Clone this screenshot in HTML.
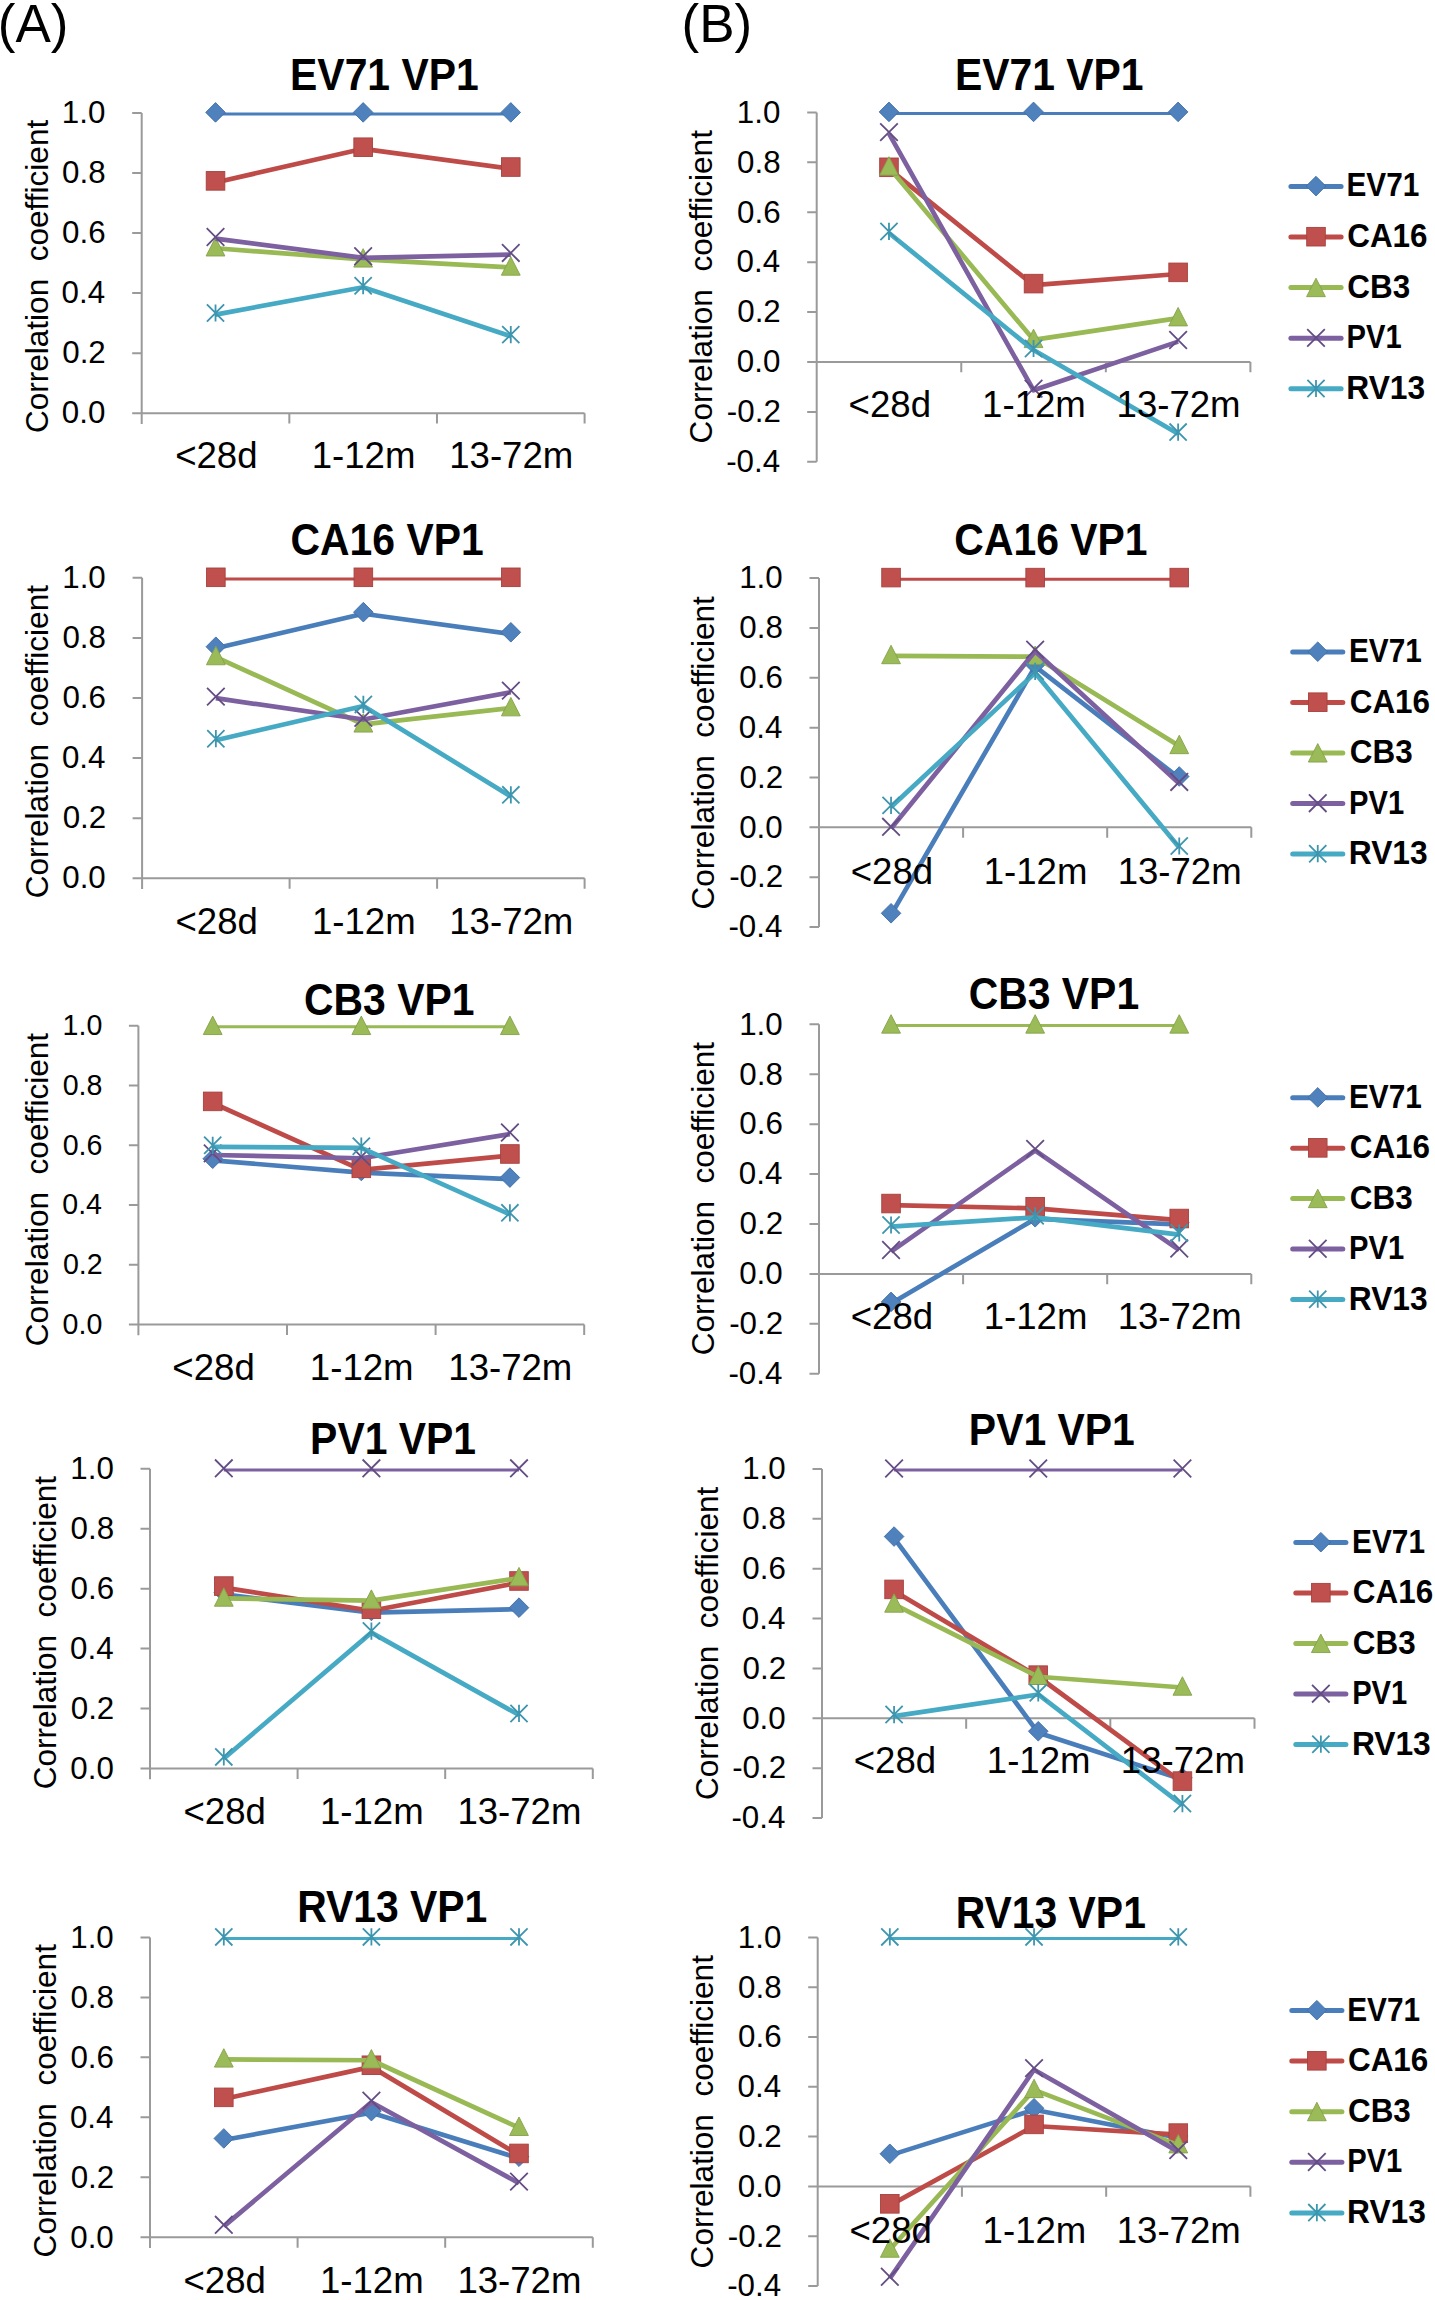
<!DOCTYPE html>
<html><head><meta charset="utf-8"><title>Correlation coefficient charts</title>
<style>
html,body{margin:0;padding:0;background:#fff;}
body{width:1435px;height:2300px;overflow:hidden;}
svg{display:block;}
text{font-family:"Liberation Sans",sans-serif;fill:#000;}
</style></head><body>
<svg width="1435" height="2300" viewBox="0 0 1435 2300">
<rect width="1435" height="2300" fill="#fff"/>
<text transform="translate(-2.21,41.8) scale(1,1)" font-size="53" font-weight="normal">(A)</text>
<text transform="translate(681.49,41.8) scale(1,1)" font-size="53" font-weight="normal">(B)</text>
<path d="M141.7 112.9L141.7 424M132.2 112.9L141.7 112.9M132.2 172.96L141.7 172.96M132.2 233.02L141.7 233.02M132.2 293.08L141.7 293.08M132.2 353.14L141.7 353.14M132.2 413.2L141.7 413.2M141.7 413.2L584.6 413.2M289.33 413.2L289.33 423.6M436.97 413.2L436.97 423.6M584.6 413.2L584.6 423.6" stroke="#9a9a9a" stroke-width="2" fill="none"/>
<path d="M215.52 114L363.15 114L510.78 114" stroke="#4A7EBB" stroke-width="3.0" fill="none" stroke-linejoin="round"/>
<path d="M215.52 102.6L225.32 112.4L215.52 122.2L205.72 112.4Z" fill="#4F81BD" stroke="#3F6DA6" stroke-width="0.9" stroke-linejoin="miter"/>
<path d="M363.15 102.6L372.95 112.4L363.15 122.2L353.35 112.4Z" fill="#4F81BD" stroke="#3F6DA6" stroke-width="0.9" stroke-linejoin="miter"/>
<path d="M510.78 102.6L520.58 112.4L510.78 122.2L500.98 112.4Z" fill="#4F81BD" stroke="#3F6DA6" stroke-width="0.9" stroke-linejoin="miter"/>
<path d="M215.52 182.47L363.15 148.83L510.78 168.65" stroke="#BE4B48" stroke-width="4.7" fill="none" stroke-linejoin="round"/>
<rect x="206.22" y="171.57" width="18.6" height="18.6" fill="#C0504D" stroke="#A5423F" stroke-width="0.9"/>
<rect x="353.85" y="137.93" width="18.6" height="18.6" fill="#C0504D" stroke="#A5423F" stroke-width="0.9"/>
<rect x="501.48" y="157.75" width="18.6" height="18.6" fill="#C0504D" stroke="#A5423F" stroke-width="0.9"/>
<path d="M215.52 248.23L363.15 259.35L510.78 267.45" stroke="#98B954" stroke-width="4.7" fill="none" stroke-linejoin="round"/>
<path d="M215.52 237.53L224.92 255.98L206.12 255.98Z" fill="#9BBB59" stroke="#84A24A" stroke-width="0.9" stroke-linejoin="miter"/>
<path d="M363.15 248.65L372.55 267.1L353.75 267.1Z" fill="#9BBB59" stroke="#84A24A" stroke-width="0.9" stroke-linejoin="miter"/>
<path d="M510.78 256.75L520.18 275.2L501.38 275.2Z" fill="#9BBB59" stroke="#84A24A" stroke-width="0.9" stroke-linejoin="miter"/>
<path d="M215.52 238.62L363.15 257.84L510.78 254.54" stroke="#7D60A0" stroke-width="4.7" fill="none" stroke-linejoin="round"/>
<path d="M206.72 228.22L224.32 245.82M206.72 245.82L224.32 228.22" stroke="#644D84" stroke-width="1.8" fill="none"/>
<path d="M354.35 247.44L371.95 265.04M354.35 265.04L371.95 247.44" stroke="#644D84" stroke-width="1.8" fill="none"/>
<path d="M501.98 244.14L519.58 261.74M501.98 261.74L519.58 244.14" stroke="#644D84" stroke-width="1.8" fill="none"/>
<path d="M215.52 314.6L363.15 287.27L510.78 336.22" stroke="#46AAC5" stroke-width="4.7" fill="none" stroke-linejoin="round"/>
<path d="M206.92 304.4L224.12 321.6M206.92 321.6L224.12 304.4M215.52 304.4L215.52 321.6" stroke="#3D95AE" stroke-width="1.8" fill="none"/>
<path d="M354.55 277.07L371.75 294.27M354.55 294.27L371.75 277.07M363.15 277.07L363.15 294.27" stroke="#3D95AE" stroke-width="1.8" fill="none"/>
<path d="M502.18 326.02L519.38 343.22M502.18 343.22L519.38 326.02M510.78 326.02L510.78 343.22" stroke="#3D95AE" stroke-width="1.8" fill="none"/>
<text transform="translate(105.38,122.6) scale(1,1)" text-anchor="end" font-size="31.3" font-weight="normal">1.0</text>
<text transform="translate(105.54,182.66) scale(1,1)" text-anchor="end" font-size="31.3" font-weight="normal">0.8</text>
<text transform="translate(105.54,242.72) scale(1,1)" text-anchor="end" font-size="31.3" font-weight="normal">0.6</text>
<text transform="translate(105.07,302.78) scale(1,1)" text-anchor="end" font-size="31.3" font-weight="normal">0.4</text>
<text transform="translate(105.77,362.84) scale(1,1)" text-anchor="end" font-size="31.3" font-weight="normal">0.2</text>
<text transform="translate(105.38,422.9) scale(1,1)" text-anchor="end" font-size="31.3" font-weight="normal">0.0</text>
<text transform="translate(216.35,468.2) scale(1,1)" text-anchor="middle" font-size="36.6" font-weight="normal">&lt;28d</text>
<text transform="translate(363.56,468.2) scale(1,1)" text-anchor="middle" font-size="36.6" font-weight="normal">1-12m</text>
<text transform="translate(511.21,468.2) scale(1,1)" text-anchor="middle" font-size="36.6" font-weight="normal">13-72m</text>
<text transform="translate(384.42,89.9) scale(0.94,1)" text-anchor="middle" font-size="43.5" font-weight="bold">EV71 VP1</text>
<text transform="translate(47.6,276.45) rotate(-90) scale(1,1)" text-anchor="middle" font-size="31.55" font-weight="normal">Correlation&#160; coefficient</text>
<path d="M142.1 577.8L142.1 889.1M132.6 577.8L142.1 577.8M132.6 637.9L142.1 637.9M132.6 698L142.1 698M132.6 758.1L142.1 758.1M132.6 818.2L142.1 818.2M132.6 878.3L142.1 878.3M142.1 878.3L584.6 878.3M289.6 878.3L289.6 888.7M437.1 878.3L437.1 888.7M584.6 878.3L584.6 888.7" stroke="#9a9a9a" stroke-width="2" fill="none"/>
<path d="M215.85 648.32L363.35 613.76L510.85 633.89" stroke="#4A7EBB" stroke-width="4.7" fill="none" stroke-linejoin="round"/>
<path d="M215.85 636.92L225.65 646.72L215.85 656.52L206.05 646.72Z" fill="#4F81BD" stroke="#3F6DA6" stroke-width="0.9" stroke-linejoin="miter"/>
<path d="M363.35 602.36L373.15 612.16L363.35 621.96L353.55 612.16Z" fill="#4F81BD" stroke="#3F6DA6" stroke-width="0.9" stroke-linejoin="miter"/>
<path d="M510.85 622.49L520.65 632.29L510.85 642.09L501.05 632.29Z" fill="#4F81BD" stroke="#3F6DA6" stroke-width="0.9" stroke-linejoin="miter"/>
<path d="M215.85 578.9L363.35 578.9L510.85 578.9" stroke="#BE4B48" stroke-width="3.0" fill="none" stroke-linejoin="round"/>
<rect x="206.55" y="568" width="18.6" height="18.6" fill="#C0504D" stroke="#A5423F" stroke-width="0.9"/>
<rect x="354.05" y="568" width="18.6" height="18.6" fill="#C0504D" stroke="#A5423F" stroke-width="0.9"/>
<rect x="501.55" y="568" width="18.6" height="18.6" fill="#C0504D" stroke="#A5423F" stroke-width="0.9"/>
<path d="M215.85 657.03L363.35 724.34L510.85 708.12" stroke="#98B954" stroke-width="4.7" fill="none" stroke-linejoin="round"/>
<path d="M215.85 646.33L225.25 664.78L206.45 664.78Z" fill="#9BBB59" stroke="#84A24A" stroke-width="0.9" stroke-linejoin="miter"/>
<path d="M363.35 713.64L372.75 732.09L353.95 732.09Z" fill="#9BBB59" stroke="#84A24A" stroke-width="0.9" stroke-linejoin="miter"/>
<path d="M510.85 697.42L520.25 715.86L501.45 715.86Z" fill="#9BBB59" stroke="#84A24A" stroke-width="0.9" stroke-linejoin="miter"/>
<path d="M215.85 698.2L363.35 719.53L510.85 692.19" stroke="#7D60A0" stroke-width="4.7" fill="none" stroke-linejoin="round"/>
<path d="M207.05 687.8L224.65 705.4M207.05 705.4L224.65 687.8" stroke="#644D84" stroke-width="1.8" fill="none"/>
<path d="M354.55 709.13L372.15 726.73M354.55 726.73L372.15 709.13" stroke="#644D84" stroke-width="1.8" fill="none"/>
<path d="M502.05 681.79L519.65 699.39M502.05 699.39L519.65 681.79" stroke="#644D84" stroke-width="1.8" fill="none"/>
<path d="M215.85 740.27L363.35 706.01L510.85 796.46" stroke="#46AAC5" stroke-width="4.7" fill="none" stroke-linejoin="round"/>
<path d="M207.25 730.07L224.45 747.27M207.25 747.27L224.45 730.07M215.85 730.07L215.85 747.27" stroke="#3D95AE" stroke-width="1.8" fill="none"/>
<path d="M354.75 695.81L371.95 713.01M354.75 713.01L371.95 695.81M363.35 695.81L363.35 713.01" stroke="#3D95AE" stroke-width="1.8" fill="none"/>
<path d="M502.25 786.26L519.45 803.46M502.25 803.46L519.45 786.26M510.85 786.26L510.85 803.46" stroke="#3D95AE" stroke-width="1.8" fill="none"/>
<text transform="translate(105.78,587.5) scale(1,1)" text-anchor="end" font-size="31.3" font-weight="normal">1.0</text>
<text transform="translate(105.94,647.6) scale(1,1)" text-anchor="end" font-size="31.3" font-weight="normal">0.8</text>
<text transform="translate(105.94,707.7) scale(1,1)" text-anchor="end" font-size="31.3" font-weight="normal">0.6</text>
<text transform="translate(105.47,767.8) scale(1,1)" text-anchor="end" font-size="31.3" font-weight="normal">0.4</text>
<text transform="translate(106.17,827.9) scale(1,1)" text-anchor="end" font-size="31.3" font-weight="normal">0.2</text>
<text transform="translate(105.78,888) scale(1,1)" text-anchor="end" font-size="31.3" font-weight="normal">0.0</text>
<text transform="translate(216.68,934.3) scale(1,1)" text-anchor="middle" font-size="36.6" font-weight="normal">&lt;28d</text>
<text transform="translate(363.76,934.3) scale(1,1)" text-anchor="middle" font-size="36.6" font-weight="normal">1-12m</text>
<text transform="translate(511.28,934.3) scale(1,1)" text-anchor="middle" font-size="36.6" font-weight="normal">13-72m</text>
<text transform="translate(387.14,555.2) scale(0.94,1)" text-anchor="middle" font-size="43.5" font-weight="bold">CA16 VP1</text>
<text transform="translate(47.6,741.7) rotate(-90) scale(1,1)" text-anchor="middle" font-size="31.55" font-weight="normal">Correlation&#160; coefficient</text>
<path d="M138.4 1025.7L138.4 1335.3M128.9 1025.7L138.4 1025.7M128.9 1085.46L138.4 1085.46M128.9 1145.22L138.4 1145.22M128.9 1204.98L138.4 1204.98M128.9 1264.74L138.4 1264.74M128.9 1324.5L138.4 1324.5M138.4 1324.5L584.2 1324.5M287 1324.5L287 1334.9M435.6 1324.5L435.6 1334.9M584.2 1324.5L584.2 1334.9" stroke="#9a9a9a" stroke-width="2" fill="none"/>
<path d="M212.7 1160.36L361.3 1172.61L509.9 1179.19" stroke="#4A7EBB" stroke-width="4.7" fill="none" stroke-linejoin="round"/>
<path d="M212.7 1148.96L222.5 1158.76L212.7 1168.56L202.9 1158.76Z" fill="#4F81BD" stroke="#3F6DA6" stroke-width="0.9" stroke-linejoin="miter"/>
<path d="M361.3 1161.21L371.1 1171.01L361.3 1180.81L351.5 1171.01Z" fill="#4F81BD" stroke="#3F6DA6" stroke-width="0.9" stroke-linejoin="miter"/>
<path d="M509.9 1167.79L519.7 1177.59L509.9 1187.39L500.1 1177.59Z" fill="#4F81BD" stroke="#3F6DA6" stroke-width="0.9" stroke-linejoin="miter"/>
<path d="M212.7 1102.99L361.3 1169.93L509.9 1155.58" stroke="#BE4B48" stroke-width="4.7" fill="none" stroke-linejoin="round"/>
<rect x="203.4" y="1092.09" width="18.6" height="18.6" fill="#C0504D" stroke="#A5423F" stroke-width="0.9"/>
<rect x="352" y="1159.03" width="18.6" height="18.6" fill="#C0504D" stroke="#A5423F" stroke-width="0.9"/>
<rect x="500.6" y="1144.68" width="18.6" height="18.6" fill="#C0504D" stroke="#A5423F" stroke-width="0.9"/>
<path d="M212.7 1026.8L361.3 1026.8L509.9 1026.8" stroke="#98B954" stroke-width="3.0" fill="none" stroke-linejoin="round"/>
<path d="M212.7 1016.1L222.1 1034.55L203.3 1034.55Z" fill="#9BBB59" stroke="#84A24A" stroke-width="0.9" stroke-linejoin="miter"/>
<path d="M361.3 1016.1L370.7 1034.55L351.9 1034.55Z" fill="#9BBB59" stroke="#84A24A" stroke-width="0.9" stroke-linejoin="miter"/>
<path d="M509.9 1016.1L519.3 1034.55L500.5 1034.55Z" fill="#9BBB59" stroke="#84A24A" stroke-width="0.9" stroke-linejoin="miter"/>
<path d="M212.7 1154.99L361.3 1158.27L509.9 1134.07" stroke="#7D60A0" stroke-width="4.7" fill="none" stroke-linejoin="round"/>
<path d="M203.9 1144.59L221.5 1162.19M203.9 1162.19L221.5 1144.59" stroke="#644D84" stroke-width="1.8" fill="none"/>
<path d="M352.5 1147.87L370.1 1165.47M352.5 1165.47L370.1 1147.87" stroke="#644D84" stroke-width="1.8" fill="none"/>
<path d="M501.1 1123.67L518.7 1141.27M501.1 1141.27L518.7 1123.67" stroke="#644D84" stroke-width="1.8" fill="none"/>
<path d="M212.7 1146.92L361.3 1147.81L509.9 1214.45" stroke="#46AAC5" stroke-width="4.7" fill="none" stroke-linejoin="round"/>
<path d="M204.1 1136.72L221.3 1153.92M204.1 1153.92L221.3 1136.72M212.7 1136.72L212.7 1153.92" stroke="#3D95AE" stroke-width="1.8" fill="none"/>
<path d="M352.7 1137.61L369.9 1154.81M352.7 1154.81L369.9 1137.61M361.3 1137.61L361.3 1154.81" stroke="#3D95AE" stroke-width="1.8" fill="none"/>
<path d="M501.3 1204.25L518.5 1221.45M501.3 1221.45L518.5 1204.25M509.9 1204.25L509.9 1221.45" stroke="#3D95AE" stroke-width="1.8" fill="none"/>
<text transform="translate(102.28,1035) scale(1,1)" text-anchor="end" font-size="28.6" font-weight="normal">1.0</text>
<text transform="translate(102.42,1094.76) scale(1,1)" text-anchor="end" font-size="28.6" font-weight="normal">0.8</text>
<text transform="translate(102.42,1154.52) scale(1,1)" text-anchor="end" font-size="28.6" font-weight="normal">0.6</text>
<text transform="translate(101.99,1214.28) scale(1,1)" text-anchor="end" font-size="28.6" font-weight="normal">0.4</text>
<text transform="translate(102.64,1274.04) scale(1,1)" text-anchor="end" font-size="28.6" font-weight="normal">0.2</text>
<text transform="translate(102.28,1333.8) scale(1,1)" text-anchor="end" font-size="28.6" font-weight="normal">0.0</text>
<text transform="translate(213.53,1379.5) scale(1,1)" text-anchor="middle" font-size="36.6" font-weight="normal">&lt;28d</text>
<text transform="translate(361.71,1379.5) scale(1,1)" text-anchor="middle" font-size="36.6" font-weight="normal">1-12m</text>
<text transform="translate(510.33,1379.5) scale(1,1)" text-anchor="middle" font-size="36.6" font-weight="normal">13-72m</text>
<text transform="translate(389.22,1014.6) scale(0.94,1)" text-anchor="middle" font-size="43.5" font-weight="bold">CB3 VP1</text>
<text transform="translate(47.6,1189.6) rotate(-90) scale(1,1)" text-anchor="middle" font-size="31.55" font-weight="normal">Correlation&#160; coefficient</text>
<path d="M150 1468.8L150 1779.3M140.5 1468.8L150 1468.8M140.5 1528.74L150 1528.74M140.5 1588.68L150 1588.68M140.5 1648.62L150 1648.62M140.5 1708.56L150 1708.56M140.5 1768.5L150 1768.5M150 1768.5L592.8 1768.5M297.6 1768.5L297.6 1778.9M445.2 1768.5L445.2 1778.9M592.8 1768.5L592.8 1778.9" stroke="#9a9a9a" stroke-width="2" fill="none"/>
<path d="M223.8 1594.28L371.4 1612.56L519 1609.26" stroke="#4A7EBB" stroke-width="4.7" fill="none" stroke-linejoin="round"/>
<path d="M223.8 1582.88L233.6 1592.68L223.8 1602.48L214 1592.68Z" fill="#4F81BD" stroke="#3F6DA6" stroke-width="0.9" stroke-linejoin="miter"/>
<path d="M371.4 1601.16L381.2 1610.96L371.4 1620.76L361.6 1610.96Z" fill="#4F81BD" stroke="#3F6DA6" stroke-width="0.9" stroke-linejoin="miter"/>
<path d="M519 1597.86L528.8 1607.66L519 1617.46L509.2 1607.66Z" fill="#4F81BD" stroke="#3F6DA6" stroke-width="0.9" stroke-linejoin="miter"/>
<path d="M223.8 1587.68L371.4 1610.76L519 1582.59" stroke="#BE4B48" stroke-width="4.7" fill="none" stroke-linejoin="round"/>
<rect x="214.5" y="1576.78" width="18.6" height="18.6" fill="#C0504D" stroke="#A5423F" stroke-width="0.9"/>
<rect x="362.1" y="1599.86" width="18.6" height="18.6" fill="#C0504D" stroke="#A5423F" stroke-width="0.9"/>
<rect x="509.7" y="1571.69" width="18.6" height="18.6" fill="#C0504D" stroke="#A5423F" stroke-width="0.9"/>
<path d="M223.8 1598.47L371.4 1600.57L519 1578.09" stroke="#98B954" stroke-width="4.7" fill="none" stroke-linejoin="round"/>
<path d="M223.8 1587.77L233.2 1606.22L214.4 1606.22Z" fill="#9BBB59" stroke="#84A24A" stroke-width="0.9" stroke-linejoin="miter"/>
<path d="M371.4 1589.87L380.8 1608.32L362 1608.32Z" fill="#9BBB59" stroke="#84A24A" stroke-width="0.9" stroke-linejoin="miter"/>
<path d="M519 1567.39L528.4 1585.84L509.6 1585.84Z" fill="#9BBB59" stroke="#84A24A" stroke-width="0.9" stroke-linejoin="miter"/>
<path d="M223.8 1469.9L371.4 1469.9L519 1469.9" stroke="#7D60A0" stroke-width="3.0" fill="none" stroke-linejoin="round"/>
<path d="M215 1459.5L232.6 1477.1M215 1477.1L232.6 1459.5" stroke="#644D84" stroke-width="1.8" fill="none"/>
<path d="M362.6 1459.5L380.2 1477.1M362.6 1477.1L380.2 1459.5" stroke="#644D84" stroke-width="1.8" fill="none"/>
<path d="M510.2 1459.5L527.8 1477.1M510.2 1477.1L527.8 1459.5" stroke="#644D84" stroke-width="1.8" fill="none"/>
<path d="M223.8 1758.51L371.4 1632.64L519 1715.05" stroke="#46AAC5" stroke-width="4.7" fill="none" stroke-linejoin="round"/>
<path d="M215.2 1748.31L232.4 1765.51M215.2 1765.51L232.4 1748.31M223.8 1748.31L223.8 1765.51" stroke="#3D95AE" stroke-width="1.8" fill="none"/>
<path d="M362.8 1622.44L380 1639.64M362.8 1639.64L380 1622.44M371.4 1622.44L371.4 1639.64" stroke="#3D95AE" stroke-width="1.8" fill="none"/>
<path d="M510.4 1704.85L527.6 1722.05M510.4 1722.05L527.6 1704.85M519 1704.85L519 1722.05" stroke="#3D95AE" stroke-width="1.8" fill="none"/>
<text transform="translate(113.88,1478.8) scale(1,1)" text-anchor="end" font-size="31.3" font-weight="normal">1.0</text>
<text transform="translate(114.04,1538.74) scale(1,1)" text-anchor="end" font-size="31.3" font-weight="normal">0.8</text>
<text transform="translate(114.04,1598.68) scale(1,1)" text-anchor="end" font-size="31.3" font-weight="normal">0.6</text>
<text transform="translate(113.57,1658.62) scale(1,1)" text-anchor="end" font-size="31.3" font-weight="normal">0.4</text>
<text transform="translate(114.27,1718.56) scale(1,1)" text-anchor="end" font-size="31.3" font-weight="normal">0.2</text>
<text transform="translate(113.88,1778.5) scale(1,1)" text-anchor="end" font-size="31.3" font-weight="normal">0.0</text>
<text transform="translate(224.63,1823.5) scale(1,1)" text-anchor="middle" font-size="36.6" font-weight="normal">&lt;28d</text>
<text transform="translate(371.81,1823.5) scale(1,1)" text-anchor="middle" font-size="36.6" font-weight="normal">1-12m</text>
<text transform="translate(519.43,1823.5) scale(1,1)" text-anchor="middle" font-size="36.6" font-weight="normal">13-72m</text>
<text transform="translate(393.05,1453.9) scale(0.94,1)" text-anchor="middle" font-size="43.5" font-weight="bold">PV1 VP1</text>
<text transform="translate(55.6,1632.6) rotate(-90) scale(1,1)" text-anchor="middle" font-size="31.55" font-weight="normal">Correlation&#160; coefficient</text>
<path d="M150 1937.4L150 2248.1M140.5 1937.4L150 1937.4M140.5 1997.38L150 1997.38M140.5 2057.36L150 2057.36M140.5 2117.34L150 2117.34M140.5 2177.32L150 2177.32M140.5 2237.3L150 2237.3M150 2237.3L592.8 2237.3M297.6 2237.3L297.6 2247.7M445.2 2237.3L445.2 2247.7M592.8 2237.3L592.8 2247.7" stroke="#9a9a9a" stroke-width="2" fill="none"/>
<path d="M223.8 2140.03L371.4 2112.74L519 2158.33" stroke="#4A7EBB" stroke-width="4.7" fill="none" stroke-linejoin="round"/>
<path d="M223.8 2128.63L233.6 2138.43L223.8 2148.23L214 2138.43Z" fill="#4F81BD" stroke="#3F6DA6" stroke-width="0.9" stroke-linejoin="miter"/>
<path d="M371.4 2101.34L381.2 2111.14L371.4 2120.94L361.6 2111.14Z" fill="#4F81BD" stroke="#3F6DA6" stroke-width="0.9" stroke-linejoin="miter"/>
<path d="M519 2146.93L528.8 2156.73L519 2166.53L509.2 2156.73Z" fill="#4F81BD" stroke="#3F6DA6" stroke-width="0.9" stroke-linejoin="miter"/>
<path d="M223.8 2098.95L371.4 2066.86L519 2155.03" stroke="#BE4B48" stroke-width="4.7" fill="none" stroke-linejoin="round"/>
<rect x="214.5" y="2088.05" width="18.6" height="18.6" fill="#C0504D" stroke="#A5423F" stroke-width="0.9"/>
<rect x="362.1" y="2055.96" width="18.6" height="18.6" fill="#C0504D" stroke="#A5423F" stroke-width="0.9"/>
<rect x="509.7" y="2144.13" width="18.6" height="18.6" fill="#C0504D" stroke="#A5423F" stroke-width="0.9"/>
<path d="M223.8 2059.36L371.4 2060.26L519 2127.74" stroke="#98B954" stroke-width="4.7" fill="none" stroke-linejoin="round"/>
<path d="M223.8 2048.66L233.2 2067.11L214.4 2067.11Z" fill="#9BBB59" stroke="#84A24A" stroke-width="0.9" stroke-linejoin="miter"/>
<path d="M371.4 2049.56L380.8 2068.01L362 2068.01Z" fill="#9BBB59" stroke="#84A24A" stroke-width="0.9" stroke-linejoin="miter"/>
<path d="M519 2117.04L528.4 2135.49L509.6 2135.49Z" fill="#9BBB59" stroke="#84A24A" stroke-width="0.9" stroke-linejoin="miter"/>
<path d="M223.8 2226.4L371.4 2102.25L519 2183.22" stroke="#7D60A0" stroke-width="4.7" fill="none" stroke-linejoin="round"/>
<path d="M215 2216L232.6 2233.6M215 2233.6L232.6 2216" stroke="#644D84" stroke-width="1.8" fill="none"/>
<path d="M362.6 2091.85L380.2 2109.45M362.6 2109.45L380.2 2091.85" stroke="#644D84" stroke-width="1.8" fill="none"/>
<path d="M510.2 2172.82L527.8 2190.42M510.2 2190.42L527.8 2172.82" stroke="#644D84" stroke-width="1.8" fill="none"/>
<path d="M223.8 1938.5L371.4 1938.5L519 1938.5" stroke="#46AAC5" stroke-width="3.0" fill="none" stroke-linejoin="round"/>
<path d="M215.2 1928.3L232.4 1945.5M215.2 1945.5L232.4 1928.3M223.8 1928.3L223.8 1945.5" stroke="#3D95AE" stroke-width="1.8" fill="none"/>
<path d="M362.8 1928.3L380 1945.5M362.8 1945.5L380 1928.3M371.4 1928.3L371.4 1945.5" stroke="#3D95AE" stroke-width="1.8" fill="none"/>
<path d="M510.4 1928.3L527.6 1945.5M510.4 1945.5L527.6 1928.3M519 1928.3L519 1945.5" stroke="#3D95AE" stroke-width="1.8" fill="none"/>
<text transform="translate(113.78,1947.6) scale(1,1)" text-anchor="end" font-size="31.3" font-weight="normal">1.0</text>
<text transform="translate(113.94,2007.58) scale(1,1)" text-anchor="end" font-size="31.3" font-weight="normal">0.8</text>
<text transform="translate(113.94,2067.56) scale(1,1)" text-anchor="end" font-size="31.3" font-weight="normal">0.6</text>
<text transform="translate(113.47,2127.54) scale(1,1)" text-anchor="end" font-size="31.3" font-weight="normal">0.4</text>
<text transform="translate(114.17,2187.52) scale(1,1)" text-anchor="end" font-size="31.3" font-weight="normal">0.2</text>
<text transform="translate(113.78,2247.5) scale(1,1)" text-anchor="end" font-size="31.3" font-weight="normal">0.0</text>
<text transform="translate(224.63,2293.3) scale(1,1)" text-anchor="middle" font-size="36.6" font-weight="normal">&lt;28d</text>
<text transform="translate(371.81,2293.3) scale(1,1)" text-anchor="middle" font-size="36.6" font-weight="normal">1-12m</text>
<text transform="translate(519.43,2293.3) scale(1,1)" text-anchor="middle" font-size="36.6" font-weight="normal">13-72m</text>
<text transform="translate(392.26,1921.6) scale(0.94,1)" text-anchor="middle" font-size="43.5" font-weight="bold">RV13 VP1</text>
<text transform="translate(55.6,2100.75) rotate(-90) scale(1,1)" text-anchor="middle" font-size="31.55" font-weight="normal">Correlation&#160; coefficient</text>
<path d="M816.7 112.4L816.7 461.8M807.2 112.4L816.7 112.4M807.2 162.31L816.7 162.31M807.2 212.23L816.7 212.23M807.2 262.14L816.7 262.14M807.2 312.06L816.7 312.06M807.2 361.97L816.7 361.97M807.2 411.89L816.7 411.89M807.2 461.8L816.7 461.8M816.7 361.97L1250.4 361.97M961.27 361.97L961.27 372.37M1105.83 361.97L1105.83 372.37M1250.4 361.97L1250.4 372.37" stroke="#9a9a9a" stroke-width="2" fill="none"/>
<path d="M888.98 113.5L1033.55 113.5L1178.12 113.5" stroke="#4A7EBB" stroke-width="3.0" fill="none" stroke-linejoin="round"/>
<path d="M888.98 102.1L898.78 111.9L888.98 121.7L879.18 111.9Z" fill="#4F81BD" stroke="#3F6DA6" stroke-width="0.9" stroke-linejoin="miter"/>
<path d="M1033.55 102.1L1043.35 111.9L1033.55 121.7L1023.75 111.9Z" fill="#4F81BD" stroke="#3F6DA6" stroke-width="0.9" stroke-linejoin="miter"/>
<path d="M1178.12 102.1L1187.92 111.9L1178.12 121.7L1168.32 111.9Z" fill="#4F81BD" stroke="#3F6DA6" stroke-width="0.9" stroke-linejoin="miter"/>
<path d="M888.98 168.9L1033.55 285.21L1178.12 273.97" stroke="#BE4B48" stroke-width="4.7" fill="none" stroke-linejoin="round"/>
<rect x="879.68" y="158" width="18.6" height="18.6" fill="#C0504D" stroke="#A5423F" stroke-width="0.9"/>
<rect x="1024.25" y="274.31" width="18.6" height="18.6" fill="#C0504D" stroke="#A5423F" stroke-width="0.9"/>
<rect x="1168.82" y="263.07" width="18.6" height="18.6" fill="#C0504D" stroke="#A5423F" stroke-width="0.9"/>
<path d="M888.98 167.41L1033.55 339.86L1178.12 318.15" stroke="#98B954" stroke-width="4.7" fill="none" stroke-linejoin="round"/>
<path d="M888.98 156.71L898.38 175.16L879.58 175.16Z" fill="#9BBB59" stroke="#84A24A" stroke-width="0.9" stroke-linejoin="miter"/>
<path d="M1033.55 329.16L1042.95 347.61L1024.15 347.61Z" fill="#9BBB59" stroke="#84A24A" stroke-width="0.9" stroke-linejoin="miter"/>
<path d="M1178.12 307.45L1187.52 325.9L1168.72 325.9Z" fill="#9BBB59" stroke="#84A24A" stroke-width="0.9" stroke-linejoin="miter"/>
<path d="M888.98 133.72L1033.55 390.27L1178.12 341.61" stroke="#7D60A0" stroke-width="4.7" fill="none" stroke-linejoin="round"/>
<path d="M880.18 123.32L897.78 140.92M880.18 140.92L897.78 123.32" stroke="#644D84" stroke-width="1.8" fill="none"/>
<path d="M1024.75 379.87L1042.35 397.47M1024.75 397.47L1042.35 379.87" stroke="#644D84" stroke-width="1.8" fill="none"/>
<path d="M1169.32 331.21L1186.92 348.81M1169.32 348.81L1186.92 331.21" stroke="#644D84" stroke-width="1.8" fill="none"/>
<path d="M888.98 233.04L1033.55 350.09L1178.12 433.7" stroke="#46AAC5" stroke-width="4.7" fill="none" stroke-linejoin="round"/>
<path d="M880.38 222.84L897.58 240.04M880.38 240.04L897.58 222.84M888.98 222.84L888.98 240.04" stroke="#3D95AE" stroke-width="1.8" fill="none"/>
<path d="M1024.95 339.89L1042.15 357.09M1024.95 357.09L1042.15 339.89M1033.55 339.89L1033.55 357.09" stroke="#3D95AE" stroke-width="1.8" fill="none"/>
<path d="M1169.52 423.5L1186.72 440.7M1169.52 440.7L1186.72 423.5M1178.12 423.5L1178.12 440.7" stroke="#3D95AE" stroke-width="1.8" fill="none"/>
<text transform="translate(780.38,122.7) scale(1,1)" text-anchor="end" font-size="31.3" font-weight="normal">1.0</text>
<text transform="translate(780.54,172.61) scale(1,1)" text-anchor="end" font-size="31.3" font-weight="normal">0.8</text>
<text transform="translate(780.54,222.53) scale(1,1)" text-anchor="end" font-size="31.3" font-weight="normal">0.6</text>
<text transform="translate(780.07,272.44) scale(1,1)" text-anchor="end" font-size="31.3" font-weight="normal">0.4</text>
<text transform="translate(780.77,322.36) scale(1,1)" text-anchor="end" font-size="31.3" font-weight="normal">0.2</text>
<text transform="translate(780.38,372.27) scale(1,1)" text-anchor="end" font-size="31.3" font-weight="normal">0.0</text>
<text transform="translate(780.79,422.19) scale(1,1)" text-anchor="end" font-size="31.3" font-weight="normal">-0.2</text>
<text transform="translate(780.08,472.1) scale(1,1)" text-anchor="end" font-size="31.3" font-weight="normal">-0.4</text>
<text transform="translate(889.81,416.97) scale(1,1)" text-anchor="middle" font-size="36.6" font-weight="normal">&lt;28d</text>
<text transform="translate(1033.96,416.97) scale(1,1)" text-anchor="middle" font-size="36.6" font-weight="normal">1-12m</text>
<text transform="translate(1178.55,416.97) scale(1,1)" text-anchor="middle" font-size="36.6" font-weight="normal">13-72m</text>
<text transform="translate(1049.27,89.9) scale(0.94,1)" text-anchor="middle" font-size="43.5" font-weight="bold">EV71 VP1</text>
<text transform="translate(712.4,286.75) rotate(-90) scale(1,1)" text-anchor="middle" font-size="31.55" font-weight="normal">Correlation&#160; coefficient</text>
<path d="M1290.9 186.4L1341.1 186.4" stroke="#4A7EBB" stroke-width="5" stroke-linecap="round"/>
<path d="M1316 176.3L1325.8 186.1L1316 195.9L1306.2 186.1Z" fill="#4F81BD" stroke="#3F6DA6" stroke-width="0.9" stroke-linejoin="miter"/>
<text transform="translate(1346.49,196.4) scale(0.92,1)" font-size="32.4" font-weight="bold">EV71</text>
<path d="M1290.9 237L1341.1 237" stroke="#BE4B48" stroke-width="5" stroke-linecap="round"/>
<rect x="1306.7" y="227.4" width="18.6" height="18.6" fill="#C0504D" stroke="#A5423F" stroke-width="0.9"/>
<text transform="translate(1347.24,247) scale(0.97,1)" font-size="32.4" font-weight="bold">CA16</text>
<path d="M1290.9 287.6L1341.1 287.6" stroke="#98B954" stroke-width="5" stroke-linecap="round"/>
<path d="M1316 278.2L1325.4 296.65L1306.6 296.65Z" fill="#9BBB59" stroke="#84A24A" stroke-width="0.9" stroke-linejoin="miter"/>
<text transform="translate(1347.25,297.6) scale(0.97,1)" font-size="32.4" font-weight="bold">CB3</text>
<path d="M1290.9 338.2L1341.1 338.2" stroke="#7D60A0" stroke-width="5" stroke-linecap="round"/>
<path d="M1307.2 329.1L1324.8 346.7M1307.2 346.7L1324.8 329.1" stroke="#644D84" stroke-width="1.8" fill="none"/>
<text transform="translate(1346.53,348.2) scale(0.9,1)" font-size="32.4" font-weight="bold">PV1</text>
<path d="M1290.9 388.8L1341.1 388.8" stroke="#46AAC5" stroke-width="5" stroke-linecap="round"/>
<path d="M1307.4 379.9L1324.6 397.1M1307.4 397.1L1324.6 379.9M1316 379.9L1316 397.1" stroke="#3D95AE" stroke-width="1.8" fill="none"/>
<text transform="translate(1346.36,398.8) scale(0.98,1)" font-size="32.4" font-weight="bold">RV13</text>
<path d="M819 578.1L819 927M809.5 578.1L819 578.1M809.5 627.94L819 627.94M809.5 677.79L819 677.79M809.5 727.63L819 727.63M809.5 777.47L819 777.47M809.5 827.31L819 827.31M809.5 877.16L819 877.16M809.5 927L819 927M819 827.31L1251.3 827.31M963.1 827.31L963.1 837.71M1107.2 827.31L1107.2 837.71M1251.3 827.31L1251.3 837.71" stroke="#9a9a9a" stroke-width="2" fill="none"/>
<path d="M891.05 914.89L1035.15 666.43L1179.25 778.07" stroke="#4A7EBB" stroke-width="4.7" fill="none" stroke-linejoin="round"/>
<path d="M891.05 903.49L900.85 913.29L891.05 923.09L881.25 913.29Z" fill="#4F81BD" stroke="#3F6DA6" stroke-width="0.9" stroke-linejoin="miter"/>
<path d="M1035.15 655.03L1044.95 664.83L1035.15 674.62L1025.35 664.83Z" fill="#4F81BD" stroke="#3F6DA6" stroke-width="0.9" stroke-linejoin="miter"/>
<path d="M1179.25 766.67L1189.05 776.47L1179.25 786.27L1169.45 776.47Z" fill="#4F81BD" stroke="#3F6DA6" stroke-width="0.9" stroke-linejoin="miter"/>
<path d="M891.05 579.2L1035.15 579.2L1179.25 579.2" stroke="#BE4B48" stroke-width="3.0" fill="none" stroke-linejoin="round"/>
<rect x="881.75" y="568.3" width="18.6" height="18.6" fill="#C0504D" stroke="#A5423F" stroke-width="0.9"/>
<rect x="1025.85" y="568.3" width="18.6" height="18.6" fill="#C0504D" stroke="#A5423F" stroke-width="0.9"/>
<rect x="1169.95" y="568.3" width="18.6" height="18.6" fill="#C0504D" stroke="#A5423F" stroke-width="0.9"/>
<path d="M891.05 655.96L1035.15 656.71L1179.25 745.92" stroke="#98B954" stroke-width="4.7" fill="none" stroke-linejoin="round"/>
<path d="M891.05 645.26L900.45 663.71L881.65 663.71Z" fill="#9BBB59" stroke="#84A24A" stroke-width="0.9" stroke-linejoin="miter"/>
<path d="M1035.15 646.01L1044.55 664.46L1025.75 664.46Z" fill="#9BBB59" stroke="#84A24A" stroke-width="0.9" stroke-linejoin="miter"/>
<path d="M1179.25 735.22L1188.65 753.67L1169.85 753.67Z" fill="#9BBB59" stroke="#84A24A" stroke-width="0.9" stroke-linejoin="miter"/>
<path d="M891.05 828.41L1035.15 651.22L1179.25 783.56" stroke="#7D60A0" stroke-width="4.7" fill="none" stroke-linejoin="round"/>
<path d="M882.25 818.01L899.85 835.61M882.25 835.61L899.85 818.01" stroke="#644D84" stroke-width="1.8" fill="none"/>
<path d="M1026.35 640.82L1043.95 658.42M1026.35 658.42L1043.95 640.82" stroke="#644D84" stroke-width="1.8" fill="none"/>
<path d="M1170.45 773.16L1188.05 790.76M1170.45 790.76L1188.05 773.16" stroke="#644D84" stroke-width="1.8" fill="none"/>
<path d="M891.05 806.98L1035.15 672.9L1179.25 847.6" stroke="#46AAC5" stroke-width="4.7" fill="none" stroke-linejoin="round"/>
<path d="M882.45 796.78L899.65 813.98M882.45 813.98L899.65 796.78M891.05 796.78L891.05 813.98" stroke="#3D95AE" stroke-width="1.8" fill="none"/>
<path d="M1026.55 662.7L1043.75 679.9M1026.55 679.9L1043.75 662.7M1035.15 662.7L1035.15 679.9" stroke="#3D95AE" stroke-width="1.8" fill="none"/>
<path d="M1170.65 837.4L1187.85 854.6M1170.65 854.6L1187.85 837.4M1179.25 837.4L1179.25 854.6" stroke="#3D95AE" stroke-width="1.8" fill="none"/>
<text transform="translate(782.68,588.4) scale(1,1)" text-anchor="end" font-size="31.3" font-weight="normal">1.0</text>
<text transform="translate(782.84,638.24) scale(1,1)" text-anchor="end" font-size="31.3" font-weight="normal">0.8</text>
<text transform="translate(782.84,688.09) scale(1,1)" text-anchor="end" font-size="31.3" font-weight="normal">0.6</text>
<text transform="translate(782.37,737.93) scale(1,1)" text-anchor="end" font-size="31.3" font-weight="normal">0.4</text>
<text transform="translate(783.07,787.77) scale(1,1)" text-anchor="end" font-size="31.3" font-weight="normal">0.2</text>
<text transform="translate(782.68,837.61) scale(1,1)" text-anchor="end" font-size="31.3" font-weight="normal">0.0</text>
<text transform="translate(783.09,887.46) scale(1,1)" text-anchor="end" font-size="31.3" font-weight="normal">-0.2</text>
<text transform="translate(782.38,937.3) scale(1,1)" text-anchor="end" font-size="31.3" font-weight="normal">-0.4</text>
<text transform="translate(891.88,883.81) scale(1,1)" text-anchor="middle" font-size="36.6" font-weight="normal">&lt;28d</text>
<text transform="translate(1035.56,883.81) scale(1,1)" text-anchor="middle" font-size="36.6" font-weight="normal">1-12m</text>
<text transform="translate(1179.68,883.81) scale(1,1)" text-anchor="middle" font-size="36.6" font-weight="normal">13-72m</text>
<text transform="translate(1050.94,555.2) scale(0.94,1)" text-anchor="middle" font-size="43.5" font-weight="bold">CA16 VP1</text>
<text transform="translate(714.4,752.85) rotate(-90) scale(1,1)" text-anchor="middle" font-size="31.55" font-weight="normal">Correlation&#160; coefficient</text>
<path d="M1292.7 652L1342.8 652" stroke="#4A7EBB" stroke-width="5" stroke-linecap="round"/>
<path d="M1317.75 641.9L1327.55 651.7L1317.75 661.5L1307.95 651.7Z" fill="#4F81BD" stroke="#3F6DA6" stroke-width="0.9" stroke-linejoin="miter"/>
<text transform="translate(1348.99,662) scale(0.92,1)" font-size="32.4" font-weight="bold">EV71</text>
<path d="M1292.7 702.5L1342.8 702.5" stroke="#BE4B48" stroke-width="5" stroke-linecap="round"/>
<rect x="1308.45" y="692.9" width="18.6" height="18.6" fill="#C0504D" stroke="#A5423F" stroke-width="0.9"/>
<text transform="translate(1349.74,712.5) scale(0.97,1)" font-size="32.4" font-weight="bold">CA16</text>
<path d="M1292.7 753L1342.8 753" stroke="#98B954" stroke-width="5" stroke-linecap="round"/>
<path d="M1317.75 743.6L1327.15 762.05L1308.35 762.05Z" fill="#9BBB59" stroke="#84A24A" stroke-width="0.9" stroke-linejoin="miter"/>
<text transform="translate(1349.75,763) scale(0.97,1)" font-size="32.4" font-weight="bold">CB3</text>
<path d="M1292.7 803.5L1342.8 803.5" stroke="#7D60A0" stroke-width="5" stroke-linecap="round"/>
<path d="M1308.95 794.4L1326.55 812M1308.95 812L1326.55 794.4" stroke="#644D84" stroke-width="1.8" fill="none"/>
<text transform="translate(1349.03,813.5) scale(0.9,1)" font-size="32.4" font-weight="bold">PV1</text>
<path d="M1292.7 854L1342.8 854" stroke="#46AAC5" stroke-width="5" stroke-linecap="round"/>
<path d="M1309.15 845.1L1326.35 862.3M1309.15 862.3L1326.35 845.1M1317.75 845.1L1317.75 862.3" stroke="#3D95AE" stroke-width="1.8" fill="none"/>
<text transform="translate(1348.86,864) scale(0.98,1)" font-size="32.4" font-weight="bold">RV13</text>
<path d="M819 1024.3L819 1373.8M809.5 1024.3L819 1024.3M809.5 1074.23L819 1074.23M809.5 1124.16L819 1124.16M809.5 1174.09L819 1174.09M809.5 1224.01L819 1224.01M809.5 1273.94L819 1273.94M809.5 1323.87L819 1323.87M809.5 1373.8L819 1373.8M819 1273.94L1251.3 1273.94M963.1 1273.94L963.1 1284.34M1107.2 1273.94L1107.2 1284.34M1251.3 1273.94L1251.3 1284.34" stroke="#9a9a9a" stroke-width="2" fill="none"/>
<path d="M891.05 1303.5L1035.15 1218.87L1179.25 1224.37" stroke="#4A7EBB" stroke-width="4.7" fill="none" stroke-linejoin="round"/>
<path d="M891.05 1292.1L900.85 1301.9L891.05 1311.7L881.25 1301.9Z" fill="#4F81BD" stroke="#3F6DA6" stroke-width="0.9" stroke-linejoin="miter"/>
<path d="M1035.15 1207.47L1044.95 1217.27L1035.15 1227.07L1025.35 1217.27Z" fill="#4F81BD" stroke="#3F6DA6" stroke-width="0.9" stroke-linejoin="miter"/>
<path d="M1179.25 1212.97L1189.05 1222.77L1179.25 1232.57L1169.45 1222.77Z" fill="#4F81BD" stroke="#3F6DA6" stroke-width="0.9" stroke-linejoin="miter"/>
<path d="M891.05 1205.14L1035.15 1208.39L1179.25 1220.12" stroke="#BE4B48" stroke-width="4.7" fill="none" stroke-linejoin="round"/>
<rect x="881.75" y="1194.24" width="18.6" height="18.6" fill="#C0504D" stroke="#A5423F" stroke-width="0.9"/>
<rect x="1025.85" y="1197.49" width="18.6" height="18.6" fill="#C0504D" stroke="#A5423F" stroke-width="0.9"/>
<rect x="1169.95" y="1209.22" width="18.6" height="18.6" fill="#C0504D" stroke="#A5423F" stroke-width="0.9"/>
<path d="M891.05 1025.4L1035.15 1025.4L1179.25 1025.4" stroke="#98B954" stroke-width="3.0" fill="none" stroke-linejoin="round"/>
<path d="M891.05 1014.7L900.45 1033.15L881.65 1033.15Z" fill="#9BBB59" stroke="#84A24A" stroke-width="0.9" stroke-linejoin="miter"/>
<path d="M1035.15 1014.7L1044.55 1033.15L1025.75 1033.15Z" fill="#9BBB59" stroke="#84A24A" stroke-width="0.9" stroke-linejoin="miter"/>
<path d="M1179.25 1014.7L1188.65 1033.15L1169.85 1033.15Z" fill="#9BBB59" stroke="#84A24A" stroke-width="0.9" stroke-linejoin="miter"/>
<path d="M891.05 1251.58L1035.15 1150.47L1179.25 1250.08" stroke="#7D60A0" stroke-width="4.7" fill="none" stroke-linejoin="round"/>
<path d="M882.25 1241.18L899.85 1258.78M882.25 1258.78L899.85 1241.18" stroke="#644D84" stroke-width="1.8" fill="none"/>
<path d="M1026.35 1140.07L1043.95 1157.67M1026.35 1157.67L1043.95 1140.07" stroke="#644D84" stroke-width="1.8" fill="none"/>
<path d="M1170.45 1239.68L1188.05 1257.28M1170.45 1257.28L1188.05 1239.68" stroke="#644D84" stroke-width="1.8" fill="none"/>
<path d="M891.05 1226.61L1035.15 1217.38L1179.25 1234.6" stroke="#46AAC5" stroke-width="4.7" fill="none" stroke-linejoin="round"/>
<path d="M882.45 1216.41L899.65 1233.61M882.45 1233.61L899.65 1216.41M891.05 1216.41L891.05 1233.61" stroke="#3D95AE" stroke-width="1.8" fill="none"/>
<path d="M1026.55 1207.18L1043.75 1224.38M1026.55 1224.38L1043.75 1207.18M1035.15 1207.18L1035.15 1224.38" stroke="#3D95AE" stroke-width="1.8" fill="none"/>
<path d="M1170.65 1224.4L1187.85 1241.6M1170.65 1241.6L1187.85 1224.4M1179.25 1224.4L1179.25 1241.6" stroke="#3D95AE" stroke-width="1.8" fill="none"/>
<text transform="translate(782.68,1034.6) scale(1,1)" text-anchor="end" font-size="31.3" font-weight="normal">1.0</text>
<text transform="translate(782.84,1084.53) scale(1,1)" text-anchor="end" font-size="31.3" font-weight="normal">0.8</text>
<text transform="translate(782.84,1134.46) scale(1,1)" text-anchor="end" font-size="31.3" font-weight="normal">0.6</text>
<text transform="translate(782.37,1184.39) scale(1,1)" text-anchor="end" font-size="31.3" font-weight="normal">0.4</text>
<text transform="translate(783.07,1234.31) scale(1,1)" text-anchor="end" font-size="31.3" font-weight="normal">0.2</text>
<text transform="translate(782.68,1284.24) scale(1,1)" text-anchor="end" font-size="31.3" font-weight="normal">0.0</text>
<text transform="translate(783.09,1334.17) scale(1,1)" text-anchor="end" font-size="31.3" font-weight="normal">-0.2</text>
<text transform="translate(782.38,1384.1) scale(1,1)" text-anchor="end" font-size="31.3" font-weight="normal">-0.4</text>
<text transform="translate(891.88,1328.94) scale(1,1)" text-anchor="middle" font-size="36.6" font-weight="normal">&lt;28d</text>
<text transform="translate(1035.56,1328.94) scale(1,1)" text-anchor="middle" font-size="36.6" font-weight="normal">1-12m</text>
<text transform="translate(1179.68,1328.94) scale(1,1)" text-anchor="middle" font-size="36.6" font-weight="normal">13-72m</text>
<text transform="translate(1053.92,1009.2) scale(0.94,1)" text-anchor="middle" font-size="43.5" font-weight="bold">CB3 VP1</text>
<text transform="translate(714.4,1198.65) rotate(-90) scale(1,1)" text-anchor="middle" font-size="31.55" font-weight="normal">Correlation&#160; coefficient</text>
<path d="M1292.7 1097.7L1342.8 1097.7" stroke="#4A7EBB" stroke-width="5" stroke-linecap="round"/>
<path d="M1317.75 1087.6L1327.55 1097.4L1317.75 1107.2L1307.95 1097.4Z" fill="#4F81BD" stroke="#3F6DA6" stroke-width="0.9" stroke-linejoin="miter"/>
<text transform="translate(1348.99,1107.7) scale(0.92,1)" font-size="32.4" font-weight="bold">EV71</text>
<path d="M1292.7 1148.15L1342.8 1148.15" stroke="#BE4B48" stroke-width="5" stroke-linecap="round"/>
<rect x="1308.45" y="1138.55" width="18.6" height="18.6" fill="#C0504D" stroke="#A5423F" stroke-width="0.9"/>
<text transform="translate(1349.74,1158.15) scale(0.97,1)" font-size="32.4" font-weight="bold">CA16</text>
<path d="M1292.7 1198.6L1342.8 1198.6" stroke="#98B954" stroke-width="5" stroke-linecap="round"/>
<path d="M1317.75 1189.2L1327.15 1207.65L1308.35 1207.65Z" fill="#9BBB59" stroke="#84A24A" stroke-width="0.9" stroke-linejoin="miter"/>
<text transform="translate(1349.75,1208.6) scale(0.97,1)" font-size="32.4" font-weight="bold">CB3</text>
<path d="M1292.7 1249.05L1342.8 1249.05" stroke="#7D60A0" stroke-width="5" stroke-linecap="round"/>
<path d="M1308.95 1239.95L1326.55 1257.55M1308.95 1257.55L1326.55 1239.95" stroke="#644D84" stroke-width="1.8" fill="none"/>
<text transform="translate(1349.03,1259.05) scale(0.9,1)" font-size="32.4" font-weight="bold">PV1</text>
<path d="M1292.7 1299.5L1342.8 1299.5" stroke="#46AAC5" stroke-width="5" stroke-linecap="round"/>
<path d="M1309.15 1290.6L1326.35 1307.8M1309.15 1307.8L1326.35 1290.6M1317.75 1290.6L1317.75 1307.8" stroke="#3D95AE" stroke-width="1.8" fill="none"/>
<text transform="translate(1348.86,1309.5) scale(0.98,1)" font-size="32.4" font-weight="bold">RV13</text>
<path d="M822 1469L822 1818M812.5 1469L822 1469M812.5 1518.86L822 1518.86M812.5 1568.71L822 1568.71M812.5 1618.57L822 1618.57M812.5 1668.43L822 1668.43M812.5 1718.29L822 1718.29M812.5 1768.14L822 1768.14M812.5 1818L822 1818M822 1718.29L1254.5 1718.29M966.17 1718.29L966.17 1728.69M1110.33 1718.29L1110.33 1728.69M1254.5 1718.29L1254.5 1728.69" stroke="#9a9a9a" stroke-width="2" fill="none"/>
<path d="M894.08 1538.15L1038.25 1732.85L1182.42 1779.46" stroke="#4A7EBB" stroke-width="4.7" fill="none" stroke-linejoin="round"/>
<path d="M894.08 1526.76L903.88 1536.56L894.08 1546.36L884.28 1536.56Z" fill="#4F81BD" stroke="#3F6DA6" stroke-width="0.9" stroke-linejoin="miter"/>
<path d="M1038.25 1721.45L1048.05 1731.25L1038.25 1741.05L1028.45 1731.25Z" fill="#4F81BD" stroke="#3F6DA6" stroke-width="0.9" stroke-linejoin="miter"/>
<path d="M1182.42 1768.06L1192.22 1777.86L1182.42 1787.66L1172.62 1777.86Z" fill="#4F81BD" stroke="#3F6DA6" stroke-width="0.9" stroke-linejoin="miter"/>
<path d="M894.08 1591L1038.25 1676.76L1182.42 1782.7" stroke="#BE4B48" stroke-width="4.7" fill="none" stroke-linejoin="round"/>
<rect x="884.78" y="1580.1" width="18.6" height="18.6" fill="#C0504D" stroke="#A5423F" stroke-width="0.9"/>
<rect x="1028.95" y="1665.86" width="18.6" height="18.6" fill="#C0504D" stroke="#A5423F" stroke-width="0.9"/>
<rect x="1173.12" y="1771.8" width="18.6" height="18.6" fill="#C0504D" stroke="#A5423F" stroke-width="0.9"/>
<path d="M894.08 1604.46L1038.25 1676.76L1182.42 1687.48" stroke="#98B954" stroke-width="4.7" fill="none" stroke-linejoin="round"/>
<path d="M894.08 1593.77L903.48 1612.21L884.68 1612.21Z" fill="#9BBB59" stroke="#84A24A" stroke-width="0.9" stroke-linejoin="miter"/>
<path d="M1038.25 1666.06L1047.65 1684.51L1028.85 1684.51Z" fill="#9BBB59" stroke="#84A24A" stroke-width="0.9" stroke-linejoin="miter"/>
<path d="M1182.42 1676.78L1191.82 1695.23L1173.02 1695.23Z" fill="#9BBB59" stroke="#84A24A" stroke-width="0.9" stroke-linejoin="miter"/>
<path d="M894.08 1470.1L1038.25 1470.1L1182.42 1470.1" stroke="#7D60A0" stroke-width="3.0" fill="none" stroke-linejoin="round"/>
<path d="M885.28 1459.7L902.88 1477.3M885.28 1477.3L902.88 1459.7" stroke="#644D84" stroke-width="1.8" fill="none"/>
<path d="M1029.45 1459.7L1047.05 1477.3M1029.45 1477.3L1047.05 1459.7" stroke="#644D84" stroke-width="1.8" fill="none"/>
<path d="M1173.62 1459.7L1191.22 1477.3M1173.62 1477.3L1191.22 1459.7" stroke="#644D84" stroke-width="1.8" fill="none"/>
<path d="M894.08 1716.14L1038.25 1694.46L1182.42 1805.14" stroke="#46AAC5" stroke-width="4.7" fill="none" stroke-linejoin="round"/>
<path d="M885.48 1705.95L902.68 1723.14M885.48 1723.14L902.68 1705.95M894.08 1705.95L894.08 1723.14" stroke="#3D95AE" stroke-width="1.8" fill="none"/>
<path d="M1029.65 1684.26L1046.85 1701.46M1029.65 1701.46L1046.85 1684.26M1038.25 1684.26L1038.25 1701.46" stroke="#3D95AE" stroke-width="1.8" fill="none"/>
<path d="M1173.82 1794.94L1191.02 1812.14M1173.82 1812.14L1191.02 1794.94M1182.42 1794.94L1182.42 1812.14" stroke="#3D95AE" stroke-width="1.8" fill="none"/>
<text transform="translate(785.68,1479.3) scale(1,1)" text-anchor="end" font-size="31.3" font-weight="normal">1.0</text>
<text transform="translate(785.84,1529.16) scale(1,1)" text-anchor="end" font-size="31.3" font-weight="normal">0.8</text>
<text transform="translate(785.84,1579.01) scale(1,1)" text-anchor="end" font-size="31.3" font-weight="normal">0.6</text>
<text transform="translate(785.37,1628.87) scale(1,1)" text-anchor="end" font-size="31.3" font-weight="normal">0.4</text>
<text transform="translate(786.07,1678.73) scale(1,1)" text-anchor="end" font-size="31.3" font-weight="normal">0.2</text>
<text transform="translate(785.68,1728.59) scale(1,1)" text-anchor="end" font-size="31.3" font-weight="normal">0.0</text>
<text transform="translate(786.09,1778.44) scale(1,1)" text-anchor="end" font-size="31.3" font-weight="normal">-0.2</text>
<text transform="translate(785.38,1828.3) scale(1,1)" text-anchor="end" font-size="31.3" font-weight="normal">-0.4</text>
<text transform="translate(894.91,1773.29) scale(1,1)" text-anchor="middle" font-size="36.6" font-weight="normal">&lt;28d</text>
<text transform="translate(1038.66,1773.29) scale(1,1)" text-anchor="middle" font-size="36.6" font-weight="normal">1-12m</text>
<text transform="translate(1182.85,1773.29) scale(1,1)" text-anchor="middle" font-size="36.6" font-weight="normal">13-72m</text>
<text transform="translate(1051.8,1445.2) scale(0.94,1)" text-anchor="middle" font-size="43.5" font-weight="bold">PV1 VP1</text>
<text transform="translate(717.5,1643.35) rotate(-90) scale(1,1)" text-anchor="middle" font-size="31.55" font-weight="normal">Correlation&#160; coefficient</text>
<path d="M1295.8 1542.5L1345.9 1542.5" stroke="#4A7EBB" stroke-width="5" stroke-linecap="round"/>
<path d="M1320.85 1532.4L1330.65 1542.2L1320.85 1552L1311.05 1542.2Z" fill="#4F81BD" stroke="#3F6DA6" stroke-width="0.9" stroke-linejoin="miter"/>
<text transform="translate(1352.09,1552.5) scale(0.92,1)" font-size="32.4" font-weight="bold">EV71</text>
<path d="M1295.8 1593L1345.9 1593" stroke="#BE4B48" stroke-width="5" stroke-linecap="round"/>
<rect x="1311.55" y="1583.4" width="18.6" height="18.6" fill="#C0504D" stroke="#A5423F" stroke-width="0.9"/>
<text transform="translate(1352.84,1603) scale(0.97,1)" font-size="32.4" font-weight="bold">CA16</text>
<path d="M1295.8 1643.5L1345.9 1643.5" stroke="#98B954" stroke-width="5" stroke-linecap="round"/>
<path d="M1320.85 1634.1L1330.25 1652.55L1311.45 1652.55Z" fill="#9BBB59" stroke="#84A24A" stroke-width="0.9" stroke-linejoin="miter"/>
<text transform="translate(1352.85,1653.5) scale(0.97,1)" font-size="32.4" font-weight="bold">CB3</text>
<path d="M1295.8 1694L1345.9 1694" stroke="#7D60A0" stroke-width="5" stroke-linecap="round"/>
<path d="M1312.05 1684.9L1329.65 1702.5M1312.05 1702.5L1329.65 1684.9" stroke="#644D84" stroke-width="1.8" fill="none"/>
<text transform="translate(1352.13,1704) scale(0.9,1)" font-size="32.4" font-weight="bold">PV1</text>
<path d="M1295.8 1744.5L1345.9 1744.5" stroke="#46AAC5" stroke-width="5" stroke-linecap="round"/>
<path d="M1312.25 1735.6L1329.45 1752.8M1312.25 1752.8L1329.45 1735.6M1320.85 1735.6L1320.85 1752.8" stroke="#3D95AE" stroke-width="1.8" fill="none"/>
<text transform="translate(1351.96,1754.5) scale(0.98,1)" font-size="32.4" font-weight="bold">RV13</text>
<path d="M817.7 1937.4L817.7 2286M808.2 1937.4L817.7 1937.4M808.2 1987.2L817.7 1987.2M808.2 2037L817.7 2037M808.2 2086.8L817.7 2086.8M808.2 2136.6L817.7 2136.6M808.2 2186.4L817.7 2186.4M808.2 2236.2L817.7 2236.2M808.2 2286L817.7 2286M817.7 2186.4L1250.4 2186.4M961.93 2186.4L961.93 2196.8M1106.17 2186.4L1106.17 2196.8M1250.4 2186.4L1250.4 2196.8" stroke="#9a9a9a" stroke-width="2" fill="none"/>
<path d="M889.82 2155.38L1034.05 2109.81L1178.28 2137.7" stroke="#4A7EBB" stroke-width="4.7" fill="none" stroke-linejoin="round"/>
<path d="M889.82 2143.98L899.62 2153.78L889.82 2163.58L880.02 2153.78Z" fill="#4F81BD" stroke="#3F6DA6" stroke-width="0.9" stroke-linejoin="miter"/>
<path d="M1034.05 2098.41L1043.85 2108.21L1034.05 2118.01L1024.25 2108.21Z" fill="#4F81BD" stroke="#3F6DA6" stroke-width="0.9" stroke-linejoin="miter"/>
<path d="M1178.28 2126.3L1188.08 2136.1L1178.28 2145.9L1168.48 2136.1Z" fill="#4F81BD" stroke="#3F6DA6" stroke-width="0.9" stroke-linejoin="miter"/>
<path d="M889.82 2205.43L1034.05 2126L1178.28 2134.71" stroke="#BE4B48" stroke-width="4.7" fill="none" stroke-linejoin="round"/>
<rect x="880.52" y="2194.53" width="18.6" height="18.6" fill="#C0504D" stroke="#A5423F" stroke-width="0.9"/>
<rect x="1024.75" y="2115.1" width="18.6" height="18.6" fill="#C0504D" stroke="#A5423F" stroke-width="0.9"/>
<rect x="1168.98" y="2123.81" width="18.6" height="18.6" fill="#C0504D" stroke="#A5423F" stroke-width="0.9"/>
<path d="M889.82 2249.5L1034.05 2089.89L1178.28 2145.17" stroke="#98B954" stroke-width="4.7" fill="none" stroke-linejoin="round"/>
<path d="M889.82 2238.8L899.22 2257.25L880.42 2257.25Z" fill="#9BBB59" stroke="#84A24A" stroke-width="0.9" stroke-linejoin="miter"/>
<path d="M1034.05 2079.19L1043.45 2097.64L1024.65 2097.64Z" fill="#9BBB59" stroke="#84A24A" stroke-width="0.9" stroke-linejoin="miter"/>
<path d="M1178.28 2134.47L1187.68 2152.92L1168.88 2152.92Z" fill="#9BBB59" stroke="#84A24A" stroke-width="0.9" stroke-linejoin="miter"/>
<path d="M889.82 2278.38L1034.05 2069.72L1178.28 2151.64" stroke="#7D60A0" stroke-width="4.7" fill="none" stroke-linejoin="round"/>
<path d="M881.02 2267.98L898.62 2285.59M881.02 2285.59L898.62 2267.98" stroke="#644D84" stroke-width="1.8" fill="none"/>
<path d="M1025.25 2059.32L1042.85 2076.92M1025.25 2076.92L1042.85 2059.32" stroke="#644D84" stroke-width="1.8" fill="none"/>
<path d="M1169.48 2141.24L1187.08 2158.84M1169.48 2158.84L1187.08 2141.24" stroke="#644D84" stroke-width="1.8" fill="none"/>
<path d="M889.82 1938.5L1034.05 1938.5L1178.28 1938.5" stroke="#46AAC5" stroke-width="3.0" fill="none" stroke-linejoin="round"/>
<path d="M881.22 1928.3L898.42 1945.5M881.22 1945.5L898.42 1928.3M889.82 1928.3L889.82 1945.5" stroke="#3D95AE" stroke-width="1.8" fill="none"/>
<path d="M1025.45 1928.3L1042.65 1945.5M1025.45 1945.5L1042.65 1928.3M1034.05 1928.3L1034.05 1945.5" stroke="#3D95AE" stroke-width="1.8" fill="none"/>
<path d="M1169.68 1928.3L1186.88 1945.5M1169.68 1945.5L1186.88 1928.3M1178.28 1928.3L1178.28 1945.5" stroke="#3D95AE" stroke-width="1.8" fill="none"/>
<text transform="translate(781.38,1947.7) scale(1,1)" text-anchor="end" font-size="31.3" font-weight="normal">1.0</text>
<text transform="translate(781.54,1997.5) scale(1,1)" text-anchor="end" font-size="31.3" font-weight="normal">0.8</text>
<text transform="translate(781.54,2047.3) scale(1,1)" text-anchor="end" font-size="31.3" font-weight="normal">0.6</text>
<text transform="translate(781.07,2097.1) scale(1,1)" text-anchor="end" font-size="31.3" font-weight="normal">0.4</text>
<text transform="translate(781.77,2146.9) scale(1,1)" text-anchor="end" font-size="31.3" font-weight="normal">0.2</text>
<text transform="translate(781.38,2196.7) scale(1,1)" text-anchor="end" font-size="31.3" font-weight="normal">0.0</text>
<text transform="translate(781.79,2246.5) scale(1,1)" text-anchor="end" font-size="31.3" font-weight="normal">-0.2</text>
<text transform="translate(781.08,2296.3) scale(1,1)" text-anchor="end" font-size="31.3" font-weight="normal">-0.4</text>
<text transform="translate(890.65,2242.9) scale(1,1)" text-anchor="middle" font-size="36.6" font-weight="normal">&lt;28d</text>
<text transform="translate(1034.46,2242.9) scale(1,1)" text-anchor="middle" font-size="36.6" font-weight="normal">1-12m</text>
<text transform="translate(1178.71,2242.9) scale(1,1)" text-anchor="middle" font-size="36.6" font-weight="normal">13-72m</text>
<text transform="translate(1050.81,1927.5) scale(0.94,1)" text-anchor="middle" font-size="43.5" font-weight="bold">RV13 VP1</text>
<text transform="translate(713.4,2111.75) rotate(-90) scale(1,1)" text-anchor="middle" font-size="31.55" font-weight="normal">Correlation&#160; coefficient</text>
<path d="M1291.8 2010.5L1341.9 2010.5" stroke="#4A7EBB" stroke-width="5" stroke-linecap="round"/>
<path d="M1316.85 2000.4L1326.65 2010.2L1316.85 2020L1307.05 2010.2Z" fill="#4F81BD" stroke="#3F6DA6" stroke-width="0.9" stroke-linejoin="miter"/>
<text transform="translate(1347.19,2020.5) scale(0.92,1)" font-size="32.4" font-weight="bold">EV71</text>
<path d="M1291.8 2061.1L1341.9 2061.1" stroke="#BE4B48" stroke-width="5" stroke-linecap="round"/>
<rect x="1307.55" y="2051.5" width="18.6" height="18.6" fill="#C0504D" stroke="#A5423F" stroke-width="0.9"/>
<text transform="translate(1347.94,2071.1) scale(0.97,1)" font-size="32.4" font-weight="bold">CA16</text>
<path d="M1291.8 2111.7L1341.9 2111.7" stroke="#98B954" stroke-width="5" stroke-linecap="round"/>
<path d="M1316.85 2102.3L1326.25 2120.75L1307.45 2120.75Z" fill="#9BBB59" stroke="#84A24A" stroke-width="0.9" stroke-linejoin="miter"/>
<text transform="translate(1347.95,2121.7) scale(0.97,1)" font-size="32.4" font-weight="bold">CB3</text>
<path d="M1291.8 2162.3L1341.9 2162.3" stroke="#7D60A0" stroke-width="5" stroke-linecap="round"/>
<path d="M1308.05 2153.2L1325.65 2170.8M1308.05 2170.8L1325.65 2153.2" stroke="#644D84" stroke-width="1.8" fill="none"/>
<text transform="translate(1347.23,2172.3) scale(0.9,1)" font-size="32.4" font-weight="bold">PV1</text>
<path d="M1291.8 2212.9L1341.9 2212.9" stroke="#46AAC5" stroke-width="5" stroke-linecap="round"/>
<path d="M1308.25 2204L1325.45 2221.2M1308.25 2221.2L1325.45 2204M1316.85 2204L1316.85 2221.2" stroke="#3D95AE" stroke-width="1.8" fill="none"/>
<text transform="translate(1347.06,2222.9) scale(0.98,1)" font-size="32.4" font-weight="bold">RV13</text>
</svg>
</body></html>
